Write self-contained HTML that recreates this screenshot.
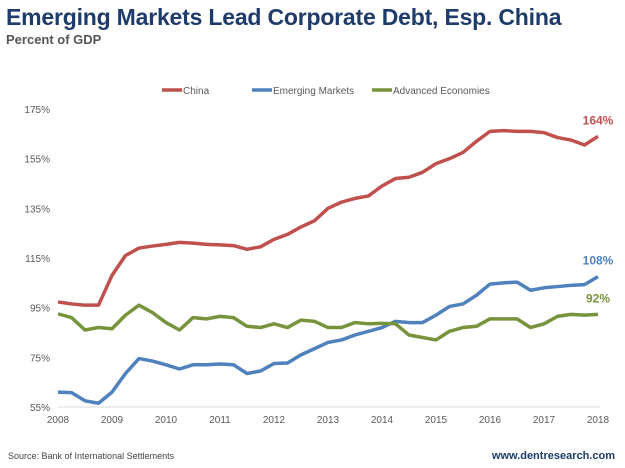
<!DOCTYPE html>
<html><head><meta charset="utf-8"><style>
body{margin:0;background:#fff;width:625px;height:468px;overflow:hidden;font-family:"Liberation Sans",sans-serif;position:relative}
.t{position:absolute;left:6px;top:4px;font-size:23px;font-weight:bold;color:#1f3b6b;white-space:nowrap;letter-spacing:-0.2px}
.s{position:absolute;left:6px;top:32px;font-size:13px;font-weight:bold;color:#555}
.src{position:absolute;left:8px;top:451px;font-size:9px;color:#444}
.web{position:absolute;right:10px;top:450px;font-size:11px;font-weight:bold;color:#1f3b6b}
</style></head><body>
<div class="t">Emerging Markets Lead Corporate Debt, Esp. China</div>
<div class="s">Percent of GDP</div>
<svg id="c" width="625" height="468" style="position:absolute;left:0;top:0"></svg>
<div class="src">Source: Bank of International Settlements</div>
<div class="web">www.dentresearch.com</div>
<script>
const yearTicks=[2008,2009,2010,2011,2012,2013,2014,2015,2016,2017,2018];
const yTicks=[55,75,95,115,135,155,175];
const china=[97.3,96.5,96,96,108,116,119,119.8,120.5,121.3,121,120.5,120.3,120,118.5,119.5,122.5,124.5,127.5,130,135,137.5,139,140,144,147,147.5,149.5,153,155,157.5,162,166,166.3,166,166,165.5,163.5,162.5,160.5,164];
const emerging=[61,60.8,57.5,56.5,61,68.5,74.5,73.5,72,70.3,72,72,72.3,72,68.5,69.5,72.5,72.7,76,78.5,81,82,84,85.5,87,89.5,89,89,92,95.5,96.5,100,104.5,105,105.3,102,103,103.5,104,104.3,107.5];
const advanced=[92.5,91,86,87,86.5,92,96,93,89,86,91,90.5,91.5,91,87.5,87,88.5,87,90,89.5,87,87,89,88.5,88.7,88.5,84,83,82,85.5,87,87.5,90.5,90.5,90.5,87,88.5,91.5,92.3,92,92.3];
const endLabels=["164%","108%","92%"];
const NS="http://www.w3.org/2000/svg";
const svg=document.getElementById('c');
const X=t=>58+(t-2008)*54;
const Y=v=>407-(v-55)*(298/120);
function mk(tag,attrs){const e=document.createElementNS(NS,tag);for(const k in attrs)e.setAttribute(k,attrs[k]);svg.appendChild(e);return e;}
const base=mk('line',{x1:58,x2:600,y1:407,y2:407,stroke:'#d9d9d9','stroke-width':1});


yTicks.forEach(v=>{const t=mk('text',{x:50,y:Y(v)+4,'text-anchor':'end','font-size':10,fill:'#595959'});t.textContent=v+'%';

});
yearTicks.forEach(y=>{const t=mk('text',{x:X(y),y:423,'text-anchor':'middle','font-size':10,fill:'#595959'});t.textContent=y;

});
const series=[[china,'#c0504d','china-line'],[emerging,'#4f81bd','emerging-markets-line'],[advanced,'#77933c','advanced-economies-line']];
series.forEach(([d,c,n],i)=>{
 const p=mk('polyline',{points:d.map((v,j)=>X(2008+j/4)+','+Y(v)).join(' '),fill:'none',stroke:c,'stroke-width':3.5,'stroke-linejoin':'round'});
 
 
 const last=d[d.length-1];
 const t=mk('text',{x:598,y:Y(last)-12,'text-anchor':'middle','font-size':12,'font-weight':'bold',fill:c});
 t.textContent=endLabels[i];
 
 
});
const leg=[['China','#c0504d',162],['Emerging Markets','#4f81bd',252],['Advanced Economies','#77933c',372]];
leg.forEach(([l,c,x])=>{
 const g=mk('g',{});
 
 
 const ln=document.createElementNS(NS,'line');ln.setAttribute('x1',x);ln.setAttribute('x2',x+20);ln.setAttribute('y1',90);ln.setAttribute('y2',90);ln.setAttribute('stroke',c);ln.setAttribute('stroke-width',3.5);g.appendChild(ln);
 const t=document.createElementNS(NS,'text');t.setAttribute('x',x+21);t.setAttribute('y',94);t.setAttribute('font-size',10);t.setAttribute('fill','#595959');t.textContent=l;g.appendChild(t);
});
</script>
</body></html>
